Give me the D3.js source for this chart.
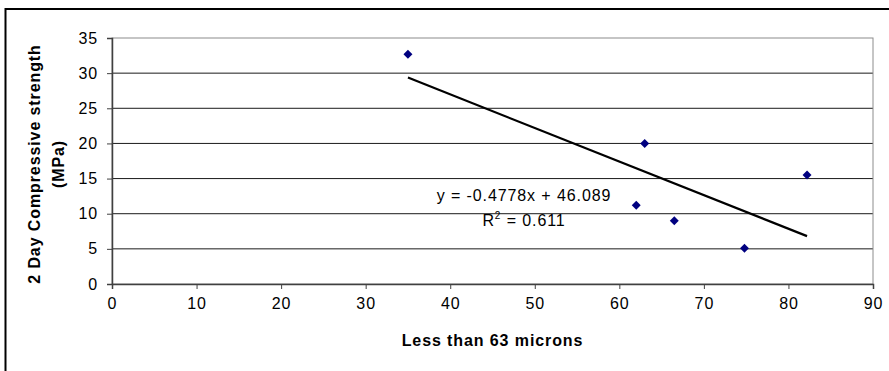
<!DOCTYPE html>
<html>
<head>
<meta charset="utf-8">
<script src="https://cdn.jsdelivr.net/npm/d3@7"></script>
<style>
  body { margin: 0; background: #fff; }
  svg { display: block; font-family: Arial, "Liberation Sans", sans-serif; }
</style>
</head>
<body>
<svg id="chart" width="889" height="371"></svg>
<script>
// ---- data ----
const finesPct = [35, 63, 82.2, 62, 66.5, 74.8];       // Less than 63 microns (%)
const strength = [32.7, 20, 15.5, 11.2, 9.0, 5.1];     // 2 Day compressive strength (MPa)
const trendSlope = -0.4778;
const trendIntercept = 46.089;
const rSquared = "0.611";
const xTicks = [0, 10, 20, 30, 40, 50, 60, 70, 80, 90];
const yTicks = [0, 5, 10, 15, 20, 25, 30, 35];
const xTitle = "Less than 63 microns";
const yTitleLines = ["2 Day Compressive strength", "(MPa)"];

// ---- layout ----
const svg = d3.select("#chart");
const pLeft = 112, pRight = 873, pTop = 38, pBottom = 284;
const x = d3.scaleLinear().domain([0, 90]).range([pLeft, pRight]);
const y = d3.scaleLinear().domain([0, 35]).range([pBottom, pTop]);
const LS = "0.9px";
const FS = "16px";

// outer chart border (cut off at right & bottom)
svg.append("rect")
  .attr("x", 5.5).attr("y", 9).attr("width", 900).attr("height", 400)
  .attr("fill", "none").attr("stroke", "#000").attr("stroke-width", 2);

// gridlines
svg.append("g").selectAll("line").data(yTicks.filter(d => d > 0 && d < 35)).join("line")
  .attr("x1", pLeft).attr("x2", pRight)
  .attr("y1", d => y(d)).attr("y2", d => y(d))
  .attr("stroke", "#1a1a1a").attr("stroke-width", 1);

// plot area border (top & right gray)
svg.append("rect")
  .attr("x", pLeft).attr("y", pTop).attr("width", pRight - pLeft).attr("height", pBottom - pTop)
  .attr("fill", "none").attr("stroke", "#8c8c8c").attr("stroke-width", 1);

// axes
const xAxis = svg.append("g").attr("transform", `translate(0,${pBottom})`)
  .call(d3.axisBottom(x).tickValues(xTicks).tickSize(5).tickPadding(9).tickFormat(d3.format("d")));
const yAxis = svg.append("g").attr("transform", `translate(${pLeft},0)`)
  .call(d3.axisLeft(y).tickValues(yTicks).tickSize(5).tickPadding(9).tickFormat(d3.format("d")));
[xAxis, yAxis].forEach(g => {
  g.select(".domain").attr("stroke", "#404040").attr("stroke-width", 1.5);
  g.selectAll(".tick line").attr("stroke", "#404040").attr("stroke-width", 1);
  g.selectAll(".tick text").attr("fill", "#000").style("font-size", FS)
    .style("font-family", "Arial, 'Liberation Sans', sans-serif").style("letter-spacing", LS);
});
xAxis.selectAll(".tick text").attr("dy", "0.71em");

// trendline
const xMin = d3.min(finesPct), xMax = d3.max(finesPct);
svg.append("line")
  .attr("x1", x(xMin)).attr("y1", y(trendSlope * xMin + trendIntercept))
  .attr("x2", x(xMax)).attr("y2", y(trendSlope * xMax + trendIntercept))
  .attr("stroke", "#000").attr("stroke-width", 2.2);

// points (diamonds)
const pts = finesPct.map((v, i) => [v, strength[i]]);
svg.append("g").selectAll("path").data(pts).join("path")
  .attr("d", d3.symbol(d3.symbolSquare, 40))
  .attr("transform", d => `translate(${x(d[0])},${y(d[1])}) rotate(45)`)
  .attr("fill", "#000080");

// equation label
const eqX = 524;
svg.append("text").attr("x", eqX).attr("y", 201).attr("text-anchor", "middle")
  .style("font-size", FS).style("letter-spacing", LS)
  .text(`y = ${trendSlope}x + ${trendIntercept}`);
const r2 = svg.append("text").attr("x", eqX).attr("y", 226).attr("text-anchor", "middle")
  .style("font-size", FS).style("letter-spacing", LS);
r2.append("tspan").text("R");
r2.append("tspan").attr("dy", -7).style("font-size", "10px").text("2");
r2.append("tspan").attr("dy", 7).text(` = ${rSquared}`);

// axis titles
svg.append("text").attr("x", (pLeft + pRight) / 2).attr("y", 346).attr("text-anchor", "middle")
  .style("font-size", FS).style("font-weight", "bold").style("letter-spacing", LS)
  .text(xTitle);

const yt = svg.append("text").attr("transform", "translate(0,164) rotate(-90)")
  .attr("text-anchor", "middle")
  .style("font-size", FS).style("font-weight", "bold").style("letter-spacing", LS);
yTitleLines.forEach((t, i) => {
  yt.append("tspan").attr("x", 0).attr("y", i === 0 ? 40 : 64).text(t);
});
</script>
</body>
</html>
